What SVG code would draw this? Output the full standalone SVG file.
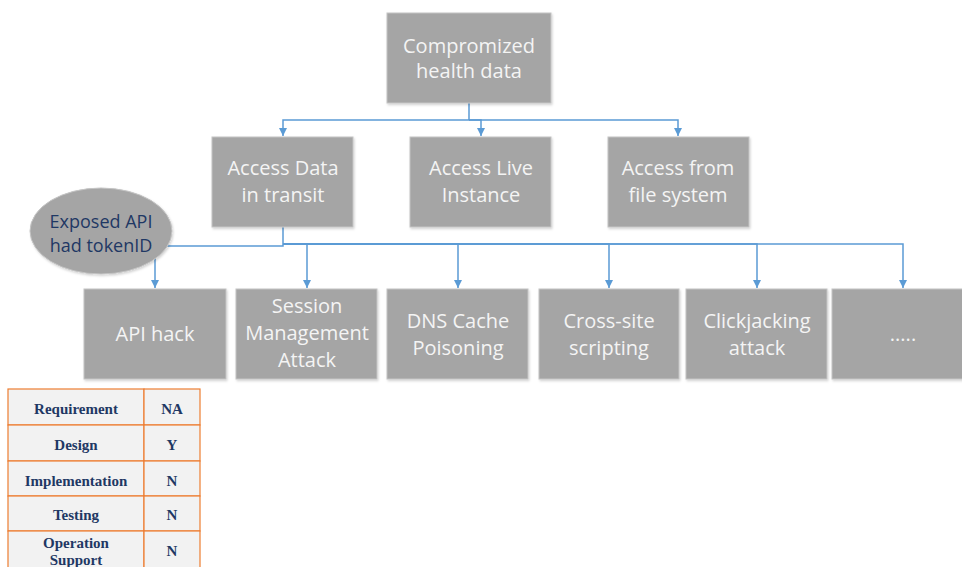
<svg xmlns="http://www.w3.org/2000/svg" width="962" height="567" viewBox="0 0 962 567">
  <defs>
    <style>
      .box { fill: #a5a5a5; stroke: #c4c4c4; stroke-width: 1; filter: url(#shadow); }
      .lbl { font-family: "Open Sans", "DejaVu Sans", sans-serif; font-size: 20px; fill: #f4f4f4; text-anchor: middle; }
      .dark { fill: #1f3864; font-size: 18px; }
      .wire { fill: none; stroke: #5b9bd5; stroke-width: 1.5; }
      .cell { fill: #f2f2f2; stroke: #ed7d31; stroke-width: 1.2; }
      .tbl { font-family: "Liberation Serif", "Times New Roman", serif; font-size: 15px; font-weight: bold; fill: #1f3864; text-anchor: middle; }
    </style>
    <filter id="shadow" x="-10%" y="-10%" width="125%" height="125%">
      <feDropShadow dx="1" dy="1.5" stdDeviation="1.2" flood-color="#000000" flood-opacity="0.18"/>
    </filter>
    <marker id="arrow" viewBox="0 0 10 10" refX="10" refY="5" markerWidth="8" markerHeight="8" markerUnits="userSpaceOnUse" orient="auto">
      <path d="M0,0 L10,5 L0,10 z" fill="#5b9bd5"/>
    </marker>
  </defs>

  <rect width="962" height="567" fill="#ffffff"/>

  <!-- connectors -->
  <g id="connectors">
    <!-- root to second level -->
    <path class="wire" d="M469,103 V120 H283 V136" marker-end="url(#arrow)"/>
    <path class="wire" d="M469,120 H481 V136" marker-end="url(#arrow)"/>
    <path class="wire" d="M469,120 H678 V136" marker-end="url(#arrow)"/>
    <!-- data in transit to attacks -->
    <path class="wire" d="M283,227 V246 H155 V288" marker-end="url(#arrow)"/>
    <path class="wire" d="M283,244 H307 V288" marker-end="url(#arrow)"/>
    <path class="wire" d="M283,244 H458 V288" marker-end="url(#arrow)"/>
    <path class="wire" d="M283,244 H609 V288" marker-end="url(#arrow)"/>
    <path class="wire" d="M283,244 H757 V288" marker-end="url(#arrow)"/>
    <path class="wire" d="M283,244 H903 V288" marker-end="url(#arrow)"/>
  </g>

  <!-- root -->
  <g id="compromized-health-data">
    <rect class="box" x="387" y="13" width="164" height="90"/>
    <text class="lbl" x="469" y="53">Compromized</text>
    <text class="lbl" x="469" y="78">health data</text>
  </g>

  <!-- second level -->
  <g id="access-data-in-transit">
    <rect class="box" x="212" y="137" width="141" height="90"/>
    <text class="lbl" x="283" y="175">Access Data</text>
    <text class="lbl" x="283" y="202">in transit</text>
  </g>
  <g id="access-live-instance">
    <rect class="box" x="410" y="137" width="141" height="90"/>
    <text class="lbl" x="481" y="175">Access Live</text>
    <text class="lbl" x="481" y="202">Instance</text>
  </g>
  <g id="access-from-file-system">
    <rect class="box" x="608" y="137" width="141" height="90"/>
    <text class="lbl" x="678" y="175">Access from</text>
    <text class="lbl" x="678" y="202">file system</text>
  </g>

  <!-- note -->
  <g id="exposed-api">
    <ellipse class="box" cx="101" cy="231" rx="71" ry="43"/>
    <text class="lbl dark" x="101" y="228">Exposed API</text>
    <text class="lbl dark" x="101" y="252">had tokenID</text>
  </g>

  <!-- attacks -->
  <g id="api-hack">
    <rect class="box" x="84" y="289" width="142" height="90"/>
    <text class="lbl" x="155" y="341">API hack</text>
  </g>
  <g id="session-management-attack">
    <rect class="box" x="236" y="289" width="141" height="90"/>
    <text class="lbl" x="307" y="313">Session</text>
    <text class="lbl" x="307" y="340">Management</text>
    <text class="lbl" x="307" y="367">Attack</text>
  </g>
  <g id="dns-cache-poisoning">
    <rect class="box" x="387" y="289" width="141" height="90"/>
    <text class="lbl" x="458" y="328">DNS Cache</text>
    <text class="lbl" x="458" y="355">Poisoning</text>
  </g>
  <g id="cross-site-scripting">
    <rect class="box" x="539" y="289" width="140" height="90"/>
    <text class="lbl" x="609" y="328">Cross-site</text>
    <text class="lbl" x="609" y="355">scripting</text>
  </g>
  <g id="clickjacking-attack">
    <rect class="box" x="686" y="289" width="141" height="90"/>
    <text class="lbl" x="757" y="328">Clickjacking</text>
    <text class="lbl" x="757" y="355">attack</text>
  </g>
  <g id="more-attacks">
    <rect class="box" x="832" y="289" width="145" height="90"/>
    <text class="lbl" x="903" y="341">.....</text>
  </g>

  <!-- lifecycle table -->
  <g id="lifecycle-table">
    <rect class="cell" x="8" y="389" width="136" height="36"/>
    <rect class="cell" x="144" y="389" width="56" height="36"/>
    <rect class="cell" x="8" y="425" width="136" height="36"/>
    <rect class="cell" x="144" y="425" width="56" height="36"/>
    <rect class="cell" x="8" y="461" width="136" height="35"/>
    <rect class="cell" x="144" y="461" width="56" height="35"/>
    <rect class="cell" x="8" y="496" width="136" height="35"/>
    <rect class="cell" x="144" y="496" width="56" height="35"/>
    <rect class="cell" x="8" y="531" width="136" height="40"/>
    <rect class="cell" x="144" y="531" width="56" height="40"/>
    <text class="tbl" x="76" y="414">Requirement</text>
    <text class="tbl" x="172" y="414">NA</text>
    <text class="tbl" x="76" y="450">Design</text>
    <text class="tbl" x="172" y="450">Y</text>
    <text class="tbl" x="76" y="486">Implementation</text>
    <text class="tbl" x="172" y="486">N</text>
    <text class="tbl" x="76" y="520">Testing</text>
    <text class="tbl" x="172" y="520">N</text>
    <text class="tbl" x="76" y="548">Operation</text>
    <text class="tbl" x="76" y="565">Support</text>
    <text class="tbl" x="172" y="556">N</text>
  </g>
</svg>
